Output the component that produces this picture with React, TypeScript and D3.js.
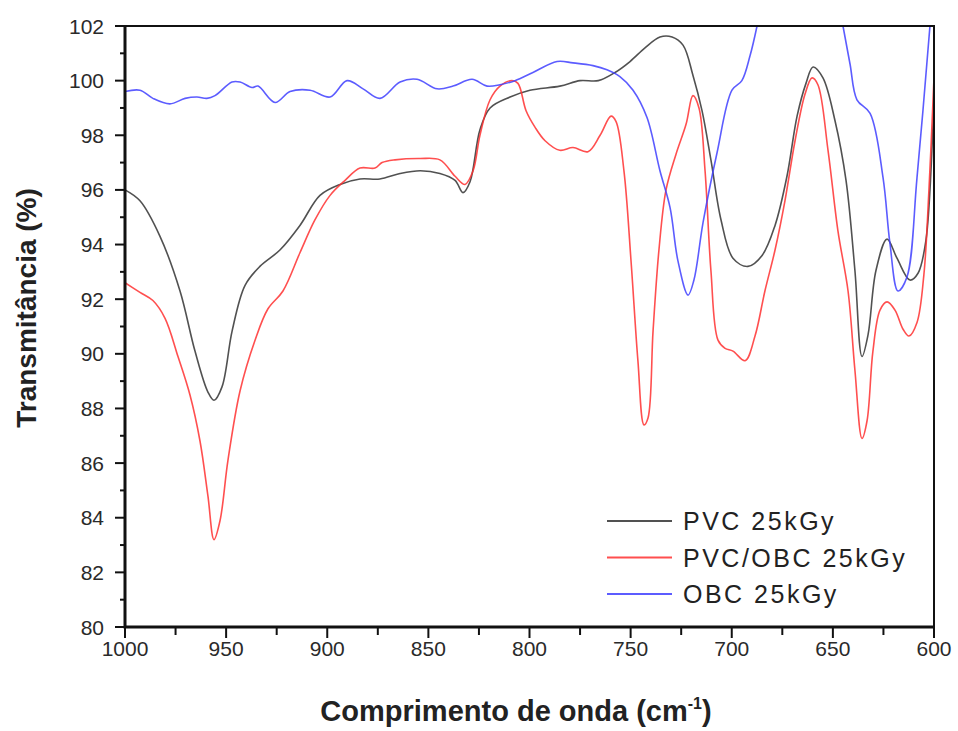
import React, { useEffect, useRef } from "react";
import * as d3 from "d3";

// [wavenumber (cm-1), transmittance (%)]
const pvc: [number, number][] = [
  [1000, 96.0], [992.6, 95.6], [982.7, 94.3], [972.8, 92.3], [965.4, 90.1], [959, 88.6],
  [956, 88.3], [952, 88.8], [947, 90.85], [940.7, 92.5], [933.3, 93.2], [923.4, 93.8],
  [913.5, 94.7], [903.6, 95.8], [893.7, 96.2], [883.8, 96.4], [874, 96.4], [864, 96.6],
  [854, 96.7], [844.3, 96.6], [836.8, 96.35], [832.9, 95.9], [829.4, 96.3], [824.5, 98.2],
  [819.5, 99.0], [809.6, 99.4], [799.8, 99.65], [785, 99.8], [775, 100.0], [766, 100.0],
  [757.7, 100.3], [750.3, 100.7], [742.9, 101.2], [735.5, 101.6], [729.5, 101.6], [724.1, 101.3],
  [719.2, 100.2], [714.7, 98.9], [710.3, 97.1], [705.3, 94.9], [699.4, 93.5], [692, 93.2],
  [685, 93.6], [678.6, 94.7], [672.7, 96.5], [667.7, 98.7], [663.3, 99.9], [659.8, 100.5],
  [654.9, 100.1], [649, 98.55], [643.5, 96.35], [639.1, 93.05], [635.6, 89.9], [632.6, 90.7],
  [628.7, 93.05], [623.2, 94.2], [618.3, 93.5], [611.9, 92.7], [607.9, 92.95], [604, 94.15],
  [600.5, 98.3], [600, 99.0],
];

const pvcObc: [number, number][] = [
  [1000, 92.6], [992.6, 92.25], [986.2, 91.95], [980.2, 91.3], [973.8, 89.9], [967.9, 88.5],
  [962.9, 86.8], [959, 84.8], [956, 83.2], [953, 83.9], [949.1, 86.1], [943.1, 88.65],
  [935.7, 90.5], [929.3, 91.65], [921.9, 92.3], [913.5, 93.7], [906.1, 94.9], [898.6, 95.8],
  [891.2, 96.35], [883.8, 96.8], [876.4, 96.8], [872.9, 97.0], [866.5, 97.1], [854.1, 97.15],
  [844.3, 97.1], [836.8, 96.5], [831.9, 96.2], [827.9, 96.7], [824.5, 98.0], [819.5, 99.3],
  [814.6, 99.8], [808.7, 100.0], [805.7, 99.9], [801.7, 98.9], [797.3, 98.3], [792.3, 97.8],
  [785, 97.45], [778.5, 97.55], [771.1, 97.4], [765.1, 98.0], [759.7, 98.7], [757.2, 98.5],
  [753.3, 96.7], [749.8, 93.4], [746.4, 89.75], [743.4, 87.4], [741.4, 87.65], [738.9, 90.85],
  [736, 93.8], [732.5, 96.0], [727.6, 97.3], [722.6, 98.4], [719.2, 99.45], [716.2, 99.0],
  [713.2, 96.7], [710.3, 93.05], [706.8, 90.5], [703.3, 90.2], [699.4, 90.1], [693.4, 89.75],
  [688.5, 90.65], [683.6, 92.3], [678.6, 93.8], [673.7, 95.6], [668.7, 97.8], [663.8, 99.5],
  [660.3, 100.1], [657.4, 99.85], [652.4, 97.45], [647.5, 94.5], [642.5, 92.3], [639.1, 89.4],
  [635.6, 86.9], [633.1, 87.55], [630.2, 90.1], [626.7, 91.6], [623.2, 91.9], [619.3, 91.6],
  [615.3, 90.9], [612.4, 90.65], [608.4, 91.15], [605, 92.9], [602.5, 96.0], [600, 100.1],
];

const obc: [number, number][] = [
  [1000, 99.6], [992.6, 99.65], [986.2, 99.35], [977.8, 99.15], [970.3, 99.35], [964.4, 99.4],
  [959.5, 99.35], [955.5, 99.45], [947.1, 99.95], [943.1, 99.95], [937.2, 99.75], [934.2, 99.8],
  [925.8, 99.2], [918.4, 99.6], [908.5, 99.65], [898.6, 99.4], [890.2, 100.0], [882.3, 99.7],
  [873.9, 99.35], [864, 99.95], [855.6, 100.05], [845.7, 99.7], [837.8, 99.8], [828.4, 100.05],
  [821, 99.8], [814.6, 99.85], [807.2, 100.0], [798.3, 100.3], [786.4, 100.7], [778.5, 100.65],
  [768.6, 100.55], [761.7, 100.4], [755.3, 100.15], [748.8, 99.65], [741.9, 98.65], [735.5, 96.7],
  [730.5, 95.35], [726.6, 93.4], [721.6, 92.15], [718.7, 92.7], [714.2, 94.8], [707.3, 97.35],
  [699.9, 99.65], [695, 100.0], [691, 100.9], [687.5, 102.0], [681.1, 104.5], [666.3, 106.5],
  [651.4, 104.5], [645, 102.0], [641.5, 100.6], [638.1, 99.3], [631.6, 98.8], [625.2, 96.45],
  [621.8, 94.05], [617.8, 92.3], [613.4, 92.8], [608.4, 96.45], [602, 102.0], [600, 104],
];

const seriesNames = ["PVC 25kGy", "PVC/OBC 25kGy", "OBC 25kGy"];
const seriesColors = ["#333333", "#ff3030", "#4040ff"];
const xTicks = [1000, 950, 900, 850, 800, 750, 700, 650, 600];
const yTicks = [80, 82, 84, 86, 88, 90, 92, 94, 96, 98, 100, 102];

const W = 958;
const H = 731;
const m = { left: 125, right: 24, top: 26, bottom: 104 };

export default function App() {
  const ref = useRef<SVGSVGElement>(null);

  useEffect(() => {
    const svg = d3.select(ref.current);
    svg.selectAll("*").remove();
    const x = d3.scaleLinear().domain([1000, 600]).range([m.left, W - m.right]);
    const y = d3.scaleLinear().domain([80, 102]).range([H - m.bottom, m.top]);
    const font = "'Liberation Sans', Arial, sans-serif";

    svg.append("defs").append("clipPath").attr("id", "plotclip")
      .append("rect")
      .attr("x", x(1000)).attr("y", y(102))
      .attr("width", x(600) - x(1000)).attr("height", y(80) - y(102));

    const line = d3.line<[number, number]>()
      .x(d => x(d[0]))
      .y(d => y(d[1]))
      .curve(d3.curveCatmullRom.alpha(0.5));

    const g = svg.append("g").attr("clip-path", "url(#plotclip)");
    [pvc, pvcObc, obc].forEach((s, i) => {
      g.append("path")
        .datum(s)
        .attr("fill", "none")
        .attr("stroke", seriesColors[i])
        .attr("stroke-width", 1.6)
        .attr("stroke-opacity", 0.85)
        .attr("stroke-linejoin", "round")
        .attr("d", line);
    });

    // frame (top/right thinner)
    svg.append("rect")
      .attr("x", x(1000)).attr("y", y(102))
      .attr("width", x(600) - x(1000)).attr("height", y(80) - y(102))
      .attr("fill", "none").attr("stroke", "#111").attr("stroke-width", 2);
    svg.append("path")
      .attr("d", `M${x(1000)},${y(102)}V${y(80)}H${x(600)}`)
      .attr("fill", "none").attr("stroke", "#111").attr("stroke-width", 3);

    // y axis
    const yAxis = svg.append("g");
    d3.range(80, 102.01, 1).forEach(v => {
      const major = v % 2 === 0;
      yAxis.append("line")
        .attr("x1", x(1000)).attr("x2", x(1000) - (major ? 10 : 5))
        .attr("y1", y(v)).attr("y2", y(v))
        .attr("stroke", "#111").attr("stroke-width", 2);
    });
    yAxis.selectAll("text").data(yTicks).join("text")
      .attr("x", 104)
      .attr("y", d => y(d))
      .attr("dy", "0.36em")
      .attr("text-anchor", "end")
      .attr("font-family", font)
      .attr("font-size", 21)
      .attr("fill", "#2a2a2a")
      .text(d => d);

    // x axis
    const xAxis = svg.append("g");
    d3.range(1000, 599, -25).forEach(v => {
      const major = v % 50 === 0;
      xAxis.append("line")
        .attr("x1", x(v)).attr("x2", x(v))
        .attr("y1", y(80)).attr("y2", y(80) + (major ? 11 : 8))
        .attr("stroke", "#111").attr("stroke-width", 2);
    });
    xAxis.selectAll("text").data(xTicks).join("text")
      .attr("x", d => x(d))
      .attr("y", 656)
      .attr("text-anchor", "middle")
      .attr("font-family", font)
      .attr("font-size", 21)
      .attr("fill", "#2a2a2a")
      .text(d => d);

    // axis titles
    svg.append("text")
      .attr("transform", `translate(36,308) rotate(-90)`)
      .attr("text-anchor", "middle")
      .attr("font-family", font)
      .attr("font-weight", "bold")
      .attr("font-size", 28)
      .attr("fill", "#222")
      .text("Transmitância (%)");

    const xt = svg.append("text")
      .attr("x", 516)
      .attr("y", 721)
      .attr("text-anchor", "middle")
      .attr("font-family", font)
      .attr("font-weight", "bold")
      .attr("font-size", 29)
      .attr("fill", "#222");
    xt.append("tspan").text("Comprimento de onda (cm");
    xt.append("tspan").attr("dy", -12).attr("font-size", 16).text("-1");
    xt.append("tspan").attr("dy", 12).text(")");

    // legend
    const leg = svg.append("g");
    seriesNames.forEach((name, i) => {
      const ly = 521 + i * 36.5;
      leg.append("line")
        .attr("x1", 607).attr("x2", 672)
        .attr("y1", ly).attr("y2", ly)
        .attr("stroke", seriesColors[i]).attr("stroke-width", 2).attr("stroke-opacity", 0.85);
      leg.append("text")
        .attr("x", 683).attr("y", ly)
        .attr("dy", "0.36em")
        .attr("font-family", font)
        .attr("font-size", 25)
        .attr("letter-spacing", 2.5)
        .attr("fill", "#222")
        .text(name);
    });
  }, []);

  return (
    <svg
      ref={ref}
      width={W}
      height={H}
      style={{ position: "absolute", left: 0, top: 0, background: "#fff" }}
    />
  );
}
